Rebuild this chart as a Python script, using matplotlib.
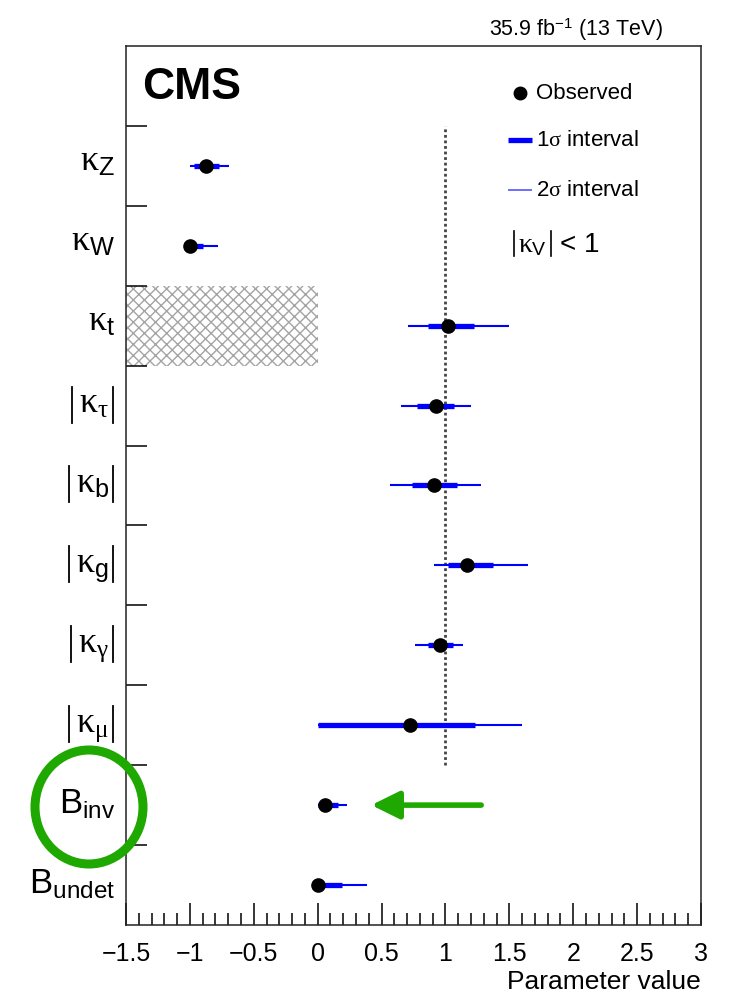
import matplotlib
matplotlib.use("Agg")
import matplotlib.pyplot as plt
from matplotlib.patches import Rectangle, Ellipse
from matplotlib.ticker import MultipleLocator

plt.rcParams["font.family"] = ["Liberation Sans", "DejaVu Sans"]
plt.rcParams["mathtext.fontset"] = "custom"
plt.rcParams["mathtext.rm"] = "Liberation Sans"
plt.rcParams["mathtext.it"] = "Liberation Serif"
plt.rcParams["hatch.linewidth"] = 1.0
plt.rcParams["hatch.color"] = "#a4a4a4"

# coupling modifiers, top to bottom
labels = [r"$\kappa_{\mathrm{Z}}$", r"$\kappa_{\mathrm{W}}$", r"$\kappa_{\mathrm{t}}$",
          r"$\kappa_{\tau}$", r"$\kappa_{\mathrm{b}}$", r"$\kappa_{\mathrm{g}}$",
          r"$\kappa_{\gamma}$", r"$\kappa_{\mu}$", r"$\mathrm{B}_{\mathrm{inv}}$",
          r"$\mathrm{B}_{\mathrm{undet}}$"]
abs_value = [False, False, False, True, True, True, True, True, False, False]
observed = [-0.87, -1.00, 1.02, 0.93, 0.91, 1.17, 0.96, 0.72, 0.06, 0.00]
lo_1sig = [-0.97, -1.00, 0.86, 0.78, 0.74, 1.02, 0.86, 0.00, 0.00, 0.00]
hi_1sig = [-0.77, -0.90, 1.22, 1.07, 1.09, 1.37, 1.06, 1.23, 0.16, 0.19]
lo_2sig = [-1.00, -1.00, 0.71, 0.65, 0.57, 0.91, 0.76, 0.00, 0.00, 0.00]
hi_2sig = [-0.69, -0.78, 1.50, 1.20, 1.28, 1.65, 1.14, 1.60, 0.23, 0.39]

# kappa_t region excluded (negative values)
excl_lo, excl_hi = -1.5, 0.0

blue = "#0000ff"
green = "#1ea800"

W, H = 733, 993
fig = plt.figure(figsize=(W / 100, H / 100), dpi=100)
ax = fig.add_axes([0.1719, 0.0685, 0.7844, 0.8852])
AX_W = 0.7844 * W  # axes width in pixels
ROW = 0.8852 * H / 11  # row height in pixels

n = len(labels)
ycen = [n - 0.5 - i for i in range(n)]

ax.add_patch(Rectangle((excl_lo, ycen[2] - 0.5), excl_hi - excl_lo, 1.0,
                       facecolor="none", edgecolor="#a4a4a4", hatch="xxx", lw=0))

ax.plot([1, 1], [ycen[7] - 0.5, ycen[0] + 0.5], color="#444444", lw=2.0,
        ls=(0, (1.0, 1.0)), zorder=1)

for y, a, b, c, d, o in zip(ycen, lo_2sig, hi_2sig, lo_1sig, hi_1sig, observed):
    ax.plot([a, b], [y, y], color=blue, lw=1.5, solid_capstyle="butt", zorder=2)
    ax.plot([c, d], [y, y], color=blue, lw=3.8, solid_capstyle="butt", zorder=3)
    ax.plot(o, y, "o", color="black", ms=9.5, zorder=4)

ax.set_xlim(-1.5, 3.0)
ax.set_ylim(0, n + 1)
ax.xaxis.set_minor_locator(MultipleLocator(0.1))
ax.set_xticks([-1.5, -1, -0.5, 0, 0.5, 1, 1.5, 2, 2.5, 3])
ax.set_xticklabels(["\u22121.5", "\u22121", "\u22120.5", "0", "0.5", "1", "1.5", "2", "2.5", "3"])
ax.tick_params(axis="x", which="major", direction="in", length=16, width=1.1,
               labelsize=18, pad=12)
ax.tick_params(axis="x", which="minor", direction="in", length=8.5, width=1.1)

ax.set_yticks(range(1, n + 1))
ax.set_yticklabels([])
ax.tick_params(axis="y", which="major", direction="in", length=15, width=1.1)

for s in ax.spines.values():
    s.set_linewidth(1.1)
    s.set_color("#222222")

ax.set_xlabel("Parameter value", loc="right", fontsize=19, labelpad=3)

# row labels, |...| drawn as bars around the measured text
ytr = ax.get_yaxis_transform()
row_texts = []
for y, lab, absv in zip(ycen, labels, abs_value):
    if absv:
        x_right = -17 / AX_W
        dy = -7 / ROW
    elif lab.startswith(r"$\mathrm{B}"):
        x_right = -11 / AX_W
        dy = -9 / ROW
    else:
        x_right = -11 / AX_W
        dy = -5 / ROW
    size = 25 if lab.startswith(r"$\mathrm{B}") else 26
    t = ax.text(x_right, y + dy, lab, fontsize=size, ha="right", va="baseline",
                transform=ytr, clip_on=False)
    row_texts.append(t)

fig.canvas.draw()
renderer = fig.canvas.get_renderer()
for t, y, absv in zip(row_texts, ycen, abs_value):
    if not absv:
        continue
    bb = t.get_window_extent(renderer)
    x0 = ax.transAxes.inverted().transform((bb.x0, bb.y0))[0]
    for xb in (x0 - 7 / AX_W, -13 / AX_W):
        ax.plot([xb, xb], [y - 17 / ROW, y + 19 / ROW], color="black", lw=1.3,
                transform=ytr, clip_on=False)

# legend block
tr = ax.transAxes
ax.plot(0.685, 0.9465, "o", color="black", ms=9, transform=tr)
ax.text(0.713, 0.9465, "Observed", fontsize=16, va="center", transform=tr)
ax.plot([0.664, 0.706], [0.893, 0.893], color=blue, lw=3.8, solid_capstyle="butt", transform=tr)
ax.text(0.713, 0.893, r"1$\sigma$ interval", fontsize=16, va="center", transform=tr)
ax.plot([0.664, 0.706], [0.836, 0.836], color="#5555ff", lw=1.2, solid_capstyle="butt", transform=tr)
ax.text(0.713, 0.836, r"2$\sigma$ interval", fontsize=16, va="center", transform=tr)

# |kappa_V| < 1
kv_y = (925 - 252) / 879
ax.plot([(514 - 126) / AX_W] * 2, [kv_y - 4 / 879, kv_y + 21 / 879], color="black",
        lw=1.2, transform=tr)
ax.plot([(551 - 126) / AX_W] * 2, [kv_y - 4 / 879, kv_y + 21 / 879], color="black",
        lw=1.2, transform=tr)
ax.text((518 - 126) / AX_W, kv_y, r"$\kappa_{\mathrm{V}}$", fontsize=20, va="baseline",
        transform=tr)
ax.text((560 - 126) / AX_W, kv_y, "< 1", fontsize=20, va="baseline", transform=tr)

ax.text(0.028, 0.976, "CMS", fontsize=32, fontweight="bold", va="top", transform=tr)
fig.text(576 / W, 1 - 36 / H, r"35.9 fb$^{\mathregular{-1}}$ (13 TeV)", fontsize=15.5,
         ha="center", va="baseline")

# highlight the invisible branching fraction
ax.annotate("", xy=(0.42, ycen[8]), xytext=(1.28, ycen[8]),
            arrowprops=dict(arrowstyle="-|>,head_length=0.85,head_width=0.42",
                            mutation_scale=20, lw=4, color=green,
                            shrinkA=0, shrinkB=0))
fig.add_artist(Ellipse((89 / W, 1 - 807 / H), 108 / W, 114 / H, transform=fig.transFigure,
                       facecolor="none", edgecolor=green, lw=6.5, clip_on=False))

fig.savefig("out.png", dpi=100)
